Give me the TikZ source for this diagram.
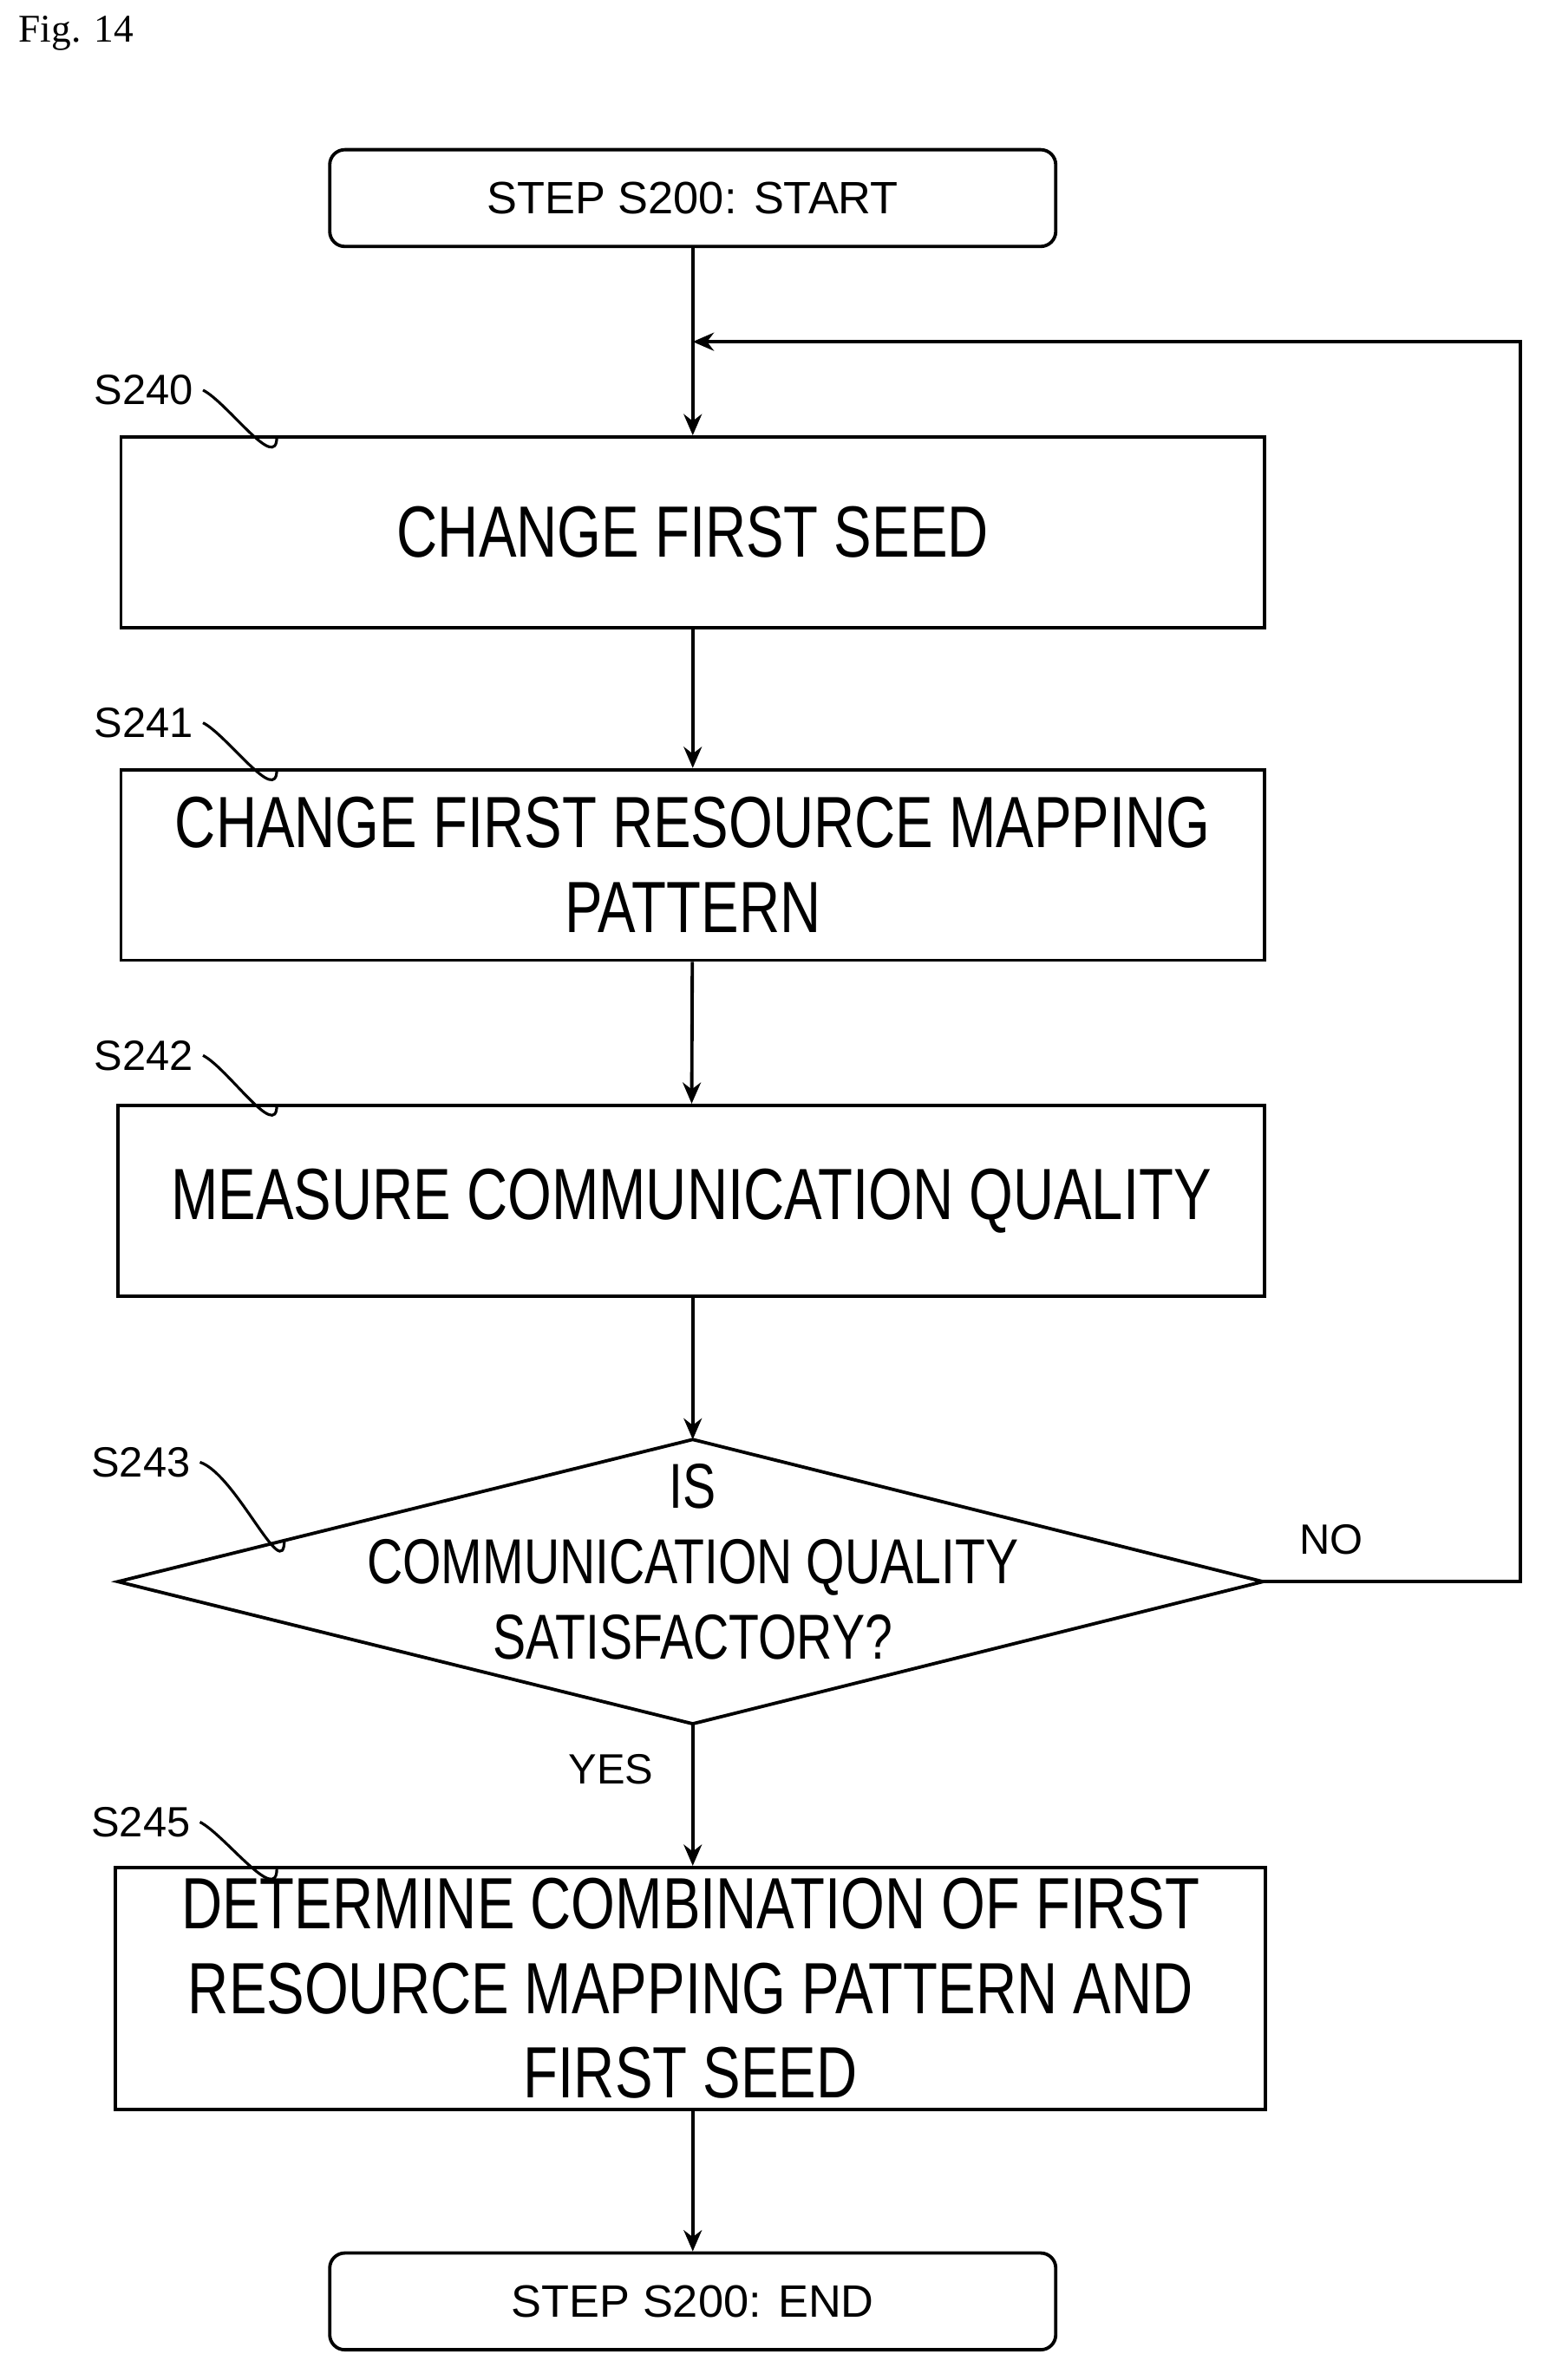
\documentclass[tikz,border=0pt]{standalone}
\usepackage{fontspec}
\setmainfont{Liberation Sans}
\newfontfamily\bigf[FakeStretch=0.78]{Liberation Sans}
\newfontfamily\figf{Liberation Serif}
\usetikzlibrary{arrows.meta}
\begin{document}
\begin{tikzpicture}[x=0.5pt,y=-0.5pt,
  box/.style={draw,line width=1.1pt,minimum width=378pt,minimum height=63pt,inner sep=0pt},
  term/.style={draw,line width=1.1pt,rounded corners=5pt,minimum width=240pt,minimum height=32pt,font=\fontsize{15}{18}\selectfont},
  big/.style={font=\bigf\fontsize{24}{28}\selectfont,align=center},
  lab/.style={font=\fontsize{14}{16}\selectfont,anchor=west,inner sep=0pt},
  arr/.style={line width=1.1pt,-{Stealth[length=7pt,width=6pt]}},
  sq/.style={line width=0.9pt}]
\useasboundingbox (0,0) rectangle (1024,1574);
\node[font=\figf\fontsize{13}{15}\selectfont,anchor=west,inner sep=0pt] (fig) at (12,22) {Fig. 14};
\node[term] (start) at (458,131) {STEP S200: START};
\node[box,big] (b240) at (458,352) {CHANGE FIRST SEED};
\node[box,big] (b241) at (458,572) {CHANGE FIRST RESOURCE MAPPING\\PATTERN};
\node[box,big,minimum width=379pt] (b242) at (457,794) {MEASURE COMMUNICATION QUALITY};
\draw[line width=1.1pt] (78,1046) coordinate (dl) -- (458,952) coordinate (dt) -- (835,1046) coordinate (dr) -- (458,1140) coordinate (db) -- cycle;
\node[big,font=\bigf\fontsize{21}{25}\selectfont] (dtext) at (458,1033) {IS\\COMMUNICATION QUALITY\\SATISFACTORY?};
\node[box,big,minimum width=380pt,minimum height=80pt] (b245) at (456.5,1315) {DETERMINE COMBINATION OF FIRST\\RESOURCE MAPPING PATTERN AND\\FIRST SEED};
\node[term] (end) at (458,1522) {STEP S200: END};
\draw[arr] (start) -- (b240);
\draw[arr] (b240) -- (b241);
\draw[arr] (b241) -- (b242);
\draw[arr] (b242.south -| dt) -- (dt);
\draw[arr] (db) -- (b245.north -| db);
\draw[arr] (b245.south -| end.north) -- (end);
\coordinate (lp) at (458,226);
\draw[arr] (dr) -- (1005,1046) -- (1005,226) -- (lp);
\node[font=\fontsize{14}{16}\selectfont] (no) at (880,1018) {NO};
\node[font=\fontsize{14}{16}\selectfont] (yes) at (404,1170) {YES};
\node[lab] (l240) at (62,258) {S240};
\node[lab] (l241) at (62,478) {S241};
\node[lab] (l242) at (62,698) {S242};
\node[lab] (l243) at (60,967) {S243};
\node[lab] (l245) at (60,1205) {S245};
\coordinate (c240) at (183,289);
\coordinate (c241) at (183,509);
\coordinate (c242) at (183,731);
\coordinate (c243) at (188,1018);
\coordinate (c245) at (183,1236);
\foreach \n in {240,241,242,245}{
  \draw[sq] ([xshift=3pt]l\n.east) .. controls ++(8pt,-4pt) and ++(0,-12pt) .. (c\n);}
\draw[sq] ([xshift=3pt]l243.east) .. controls ++(12pt,-4pt) and ++(0,-16pt) .. (c243);
\end{tikzpicture}
\end{document}
